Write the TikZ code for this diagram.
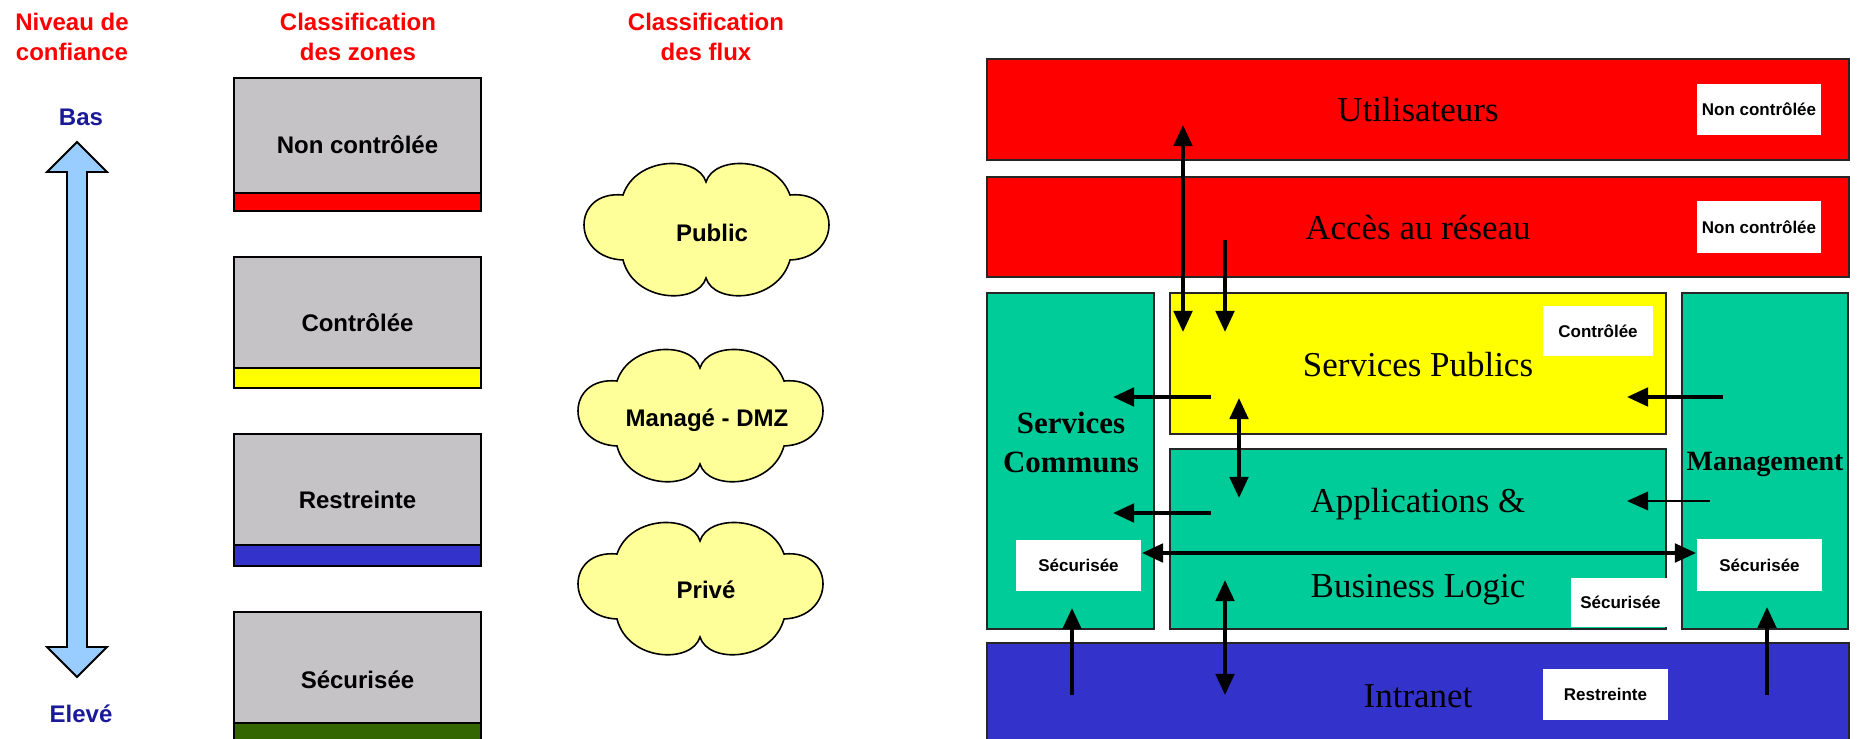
\documentclass[tikz,border=0pt]{standalone}
\usepackage{fontspec}
\setmainfont{Liberation Serif}
\newfontfamily\arialfam{Liberation Sans}
\usetikzlibrary{arrows.meta}

\definecolor{zred}{RGB}{255,0,0}
\definecolor{zyellow}{RGB}{255,255,0}
\definecolor{zteal}{RGB}{0,204,153}
\definecolor{zblue}{RGB}{51,51,204}
\definecolor{zgreen}{RGB}{51,102,0}
\definecolor{zgrey}{RGB}{197,195,198}
\definecolor{zsky}{RGB}{153,204,255}
\definecolor{zcloud}{RGB}{255,255,153}
\definecolor{znavy}{RGB}{26,26,153}

% one drawing unit = one pixel of the 1858 x 739 canvas
\newcommand\pxu{0.02cm}

\tikzset{
  sansbig/.style={font=\arialfam\bfseries\fontsize{13.66pt}{16.7pt}\selectfont},
  hdr/.style={sansbig, text=zred, align=center, inner sep=0pt, anchor=north},
  level/.style={sansbig, text=znavy, inner sep=0pt, anchor=base},
  zonebox/.style={sansbig, draw=black, line width=1.1pt, fill=zgrey,
    minimum width=247*\pxu, inner sep=0pt},
  zoneband/.style={draw=black, line width=1.1pt, minimum width=247*\pxu,
    inner sep=0pt, anchor=south west},
  cloudline/.style={draw=black, fill=zcloud, line width=0.9pt},
  cloudtext/.style={sansbig, inner sep=0pt},
  fluxcloud/.pic={
    \draw[cloudline] (0,-48) .. controls (8,-75) and (70,-74) .. (84,-35)
      .. controls (136,-40) and (136,28) .. (84,30)
      .. controls (72,73) and (8,75) .. (0,48)
      .. controls (-8,75) and (-72,73) .. (-83,30)
      .. controls (-135,28) and (-135,-40) .. (-83,-35)
      .. controls (-70,-74) and (-8,-75) .. (0,-48) -- cycle;
  },
  layer/.style={draw=black!85, line width=0.9pt, inner sep=0pt},
  tag/.style={fill=white, inner sep=0pt, minimum height=51*\pxu,
    font=\arialfam\bfseries\fontsize{9.67pt}{11pt}\selectfont},
  big/.style={font=\fontsize{19.9pt}{23pt}\selectfont, anchor=base, inner sep=0pt},
  bigb/.style={font=\bfseries\fontsize{17.6pt}{20pt}\selectfont, anchor=base, inner sep=0pt},
  flow/.style={line width=2.1pt, -{Triangle[length=12pt,width=10.5pt]}},
  thinflow/.style={line width=1.3pt, -{Triangle[length=12pt,width=10.5pt]}},
  biflow/.style={line width=2.1pt,
    {Triangle[length=12pt,width=10.5pt]}-{Triangle[length=12pt,width=10.5pt]}},
}

\begin{document}
\begin{tikzpicture}[x=0.02cm,y=-0.02cm]
\useasboundingbox (0,0) rectangle (1858,739);
\clip (0,0) rectangle (1858,739);
\fill[white] (0,0) rectangle (1858,739);

% ---------- column headers ----------
\node[hdr] (hconf) at (72,13) {Niveau de\\confiance};
\node[hdr] (hzones) at (358,13) {Classification\\des zones};
\node[hdr] (hflux) at (706,13) {Classification\\des flux};

% ---------- trust level arrow ----------
\draw[fill=zsky, draw=black, line width=1.1pt]
  (77,142) -- (107,172) -- (87,172) -- (87,647) -- (107,647) -- (77,677)
  -- (47,647) -- (67,647) -- (67,172) -- (47,172) -- cycle;
\node[level] (bas) at (81,126) {Bas};
\node[level] (eleve) at (81,722) {Elevé};

% ---------- zone classes ----------
\node[zonebox, minimum height=133*\pxu] (znc) at (357.5,144.5) {Non contrôlée};
\node[zoneband, fill=zred, minimum height=18*\pxu] (znc-b) at (znc.south west) {};
\node[zonebox, minimum height=131*\pxu] (zc) at (357.5,322.5) {Contrôlée};
\node[zoneband, fill=zyellow, minimum height=20*\pxu] (zc-b) at (zc.south west) {};
\node[zonebox, minimum height=132*\pxu] (zr) at (357.5,500) {Restreinte};
\node[zoneband, fill=zblue, minimum height=21*\pxu] (zr-b) at (zr.south west) {};
\node[zonebox, minimum height=136*\pxu] (zs) at (357.5,680) {Sécurisée};
\node[zoneband, fill=zgreen, minimum height=25*\pxu] (zs-b) at (zs.south west) {};

% ---------- flow classes ----------
\pic (cpub) at (706,230) {fluxcloud};
\node[cloudtext] (tpub) at (712,233) {Public};
\pic (cdmz) at (700,416) {fluxcloud};
\node[cloudtext] (tdmz) at (707,420) {Managé - DMZ};
\pic (cpriv) at (700,589) {fluxcloud};
\node[cloudtext] (tpriv) at (706,590) {Privé};

% ---------- architecture layers ----------
\node[layer, fill=zred, minimum width=862*\pxu, minimum height=101*\pxu] (util) at (1418,109.5) {};
\node[layer, fill=zred, minimum width=862*\pxu, minimum height=100*\pxu] (acces) at (1418,227) {};
\node[layer, fill=zteal, minimum width=167*\pxu, minimum height=336*\pxu] (commun) at (1070.5,461) {};
\node[layer, fill=zyellow, minimum width=496*\pxu, minimum height=141*\pxu] (pub) at (1418,363.5) {};
\node[layer, fill=zteal, minimum width=496*\pxu, minimum height=180*\pxu] (app) at (1418,539) {};
\node[layer, fill=zteal, minimum width=166*\pxu, minimum height=336*\pxu] (mgmt) at (1765,461) {};
\node[layer, fill=zblue, minimum width=862*\pxu, minimum height=117*\pxu] (intra) at (1418,701.5) {};

% layer titles
\node[big] (t-util) at (1418,122) {Utilisateurs};
\node[big] (t-acces) at (1418,240) {Accès au réseau};
\node[big] (t-pub) at (1418,377) {Services Publics};
\node[big] (t-app1) at (1418,512) {Applications \&};
\node[big] (t-app2) at (1418,597) {Business Logic};
\node[big] (t-intra) at (1418,707) {Intranet};
\node[bigb] (t-com1) at (1071,434) {Services};
\node[bigb] (t-com2) at (1071,472) {Communs};
\node[bigb, font=\bfseries\fontsize{15.9pt}{18pt}\selectfont] (t-mgmt) at (1765,470) {Management};

% zone tags
\node[tag, minimum width=124*\pxu] (g-util) at (1759,109.5) {Non contrôlée};
\node[tag, minimum width=124*\pxu, minimum height=52*\pxu] (g-acces) at (1759,227) {Non contrôlée};
\node[tag, minimum width=110*\pxu, minimum height=50*\pxu] (g-pub) at (1598,331) {Contrôlée};
\node[tag, minimum width=125*\pxu] (g-com) at (1078.5,565.5) {Sécurisée};
\node[tag, minimum width=125*\pxu, minimum height=52*\pxu] (g-mgmt) at (1759.5,565) {Sécurisée};
\node[tag, minimum width=99*\pxu, minimum height=49*\pxu] (g-app) at (1620.5,602.5) {Sécurisée};
\node[tag, minimum width=125*\pxu] (g-intra) at (1605.5,694.5) {Restreinte};

% ---------- flows ----------
\coordinate (u-in) at (1183,125);
\coordinate (p-in1) at (1183,332);
\coordinate (a-out) at (1225,240);
\coordinate (p-in2) at (1225,332);
\coordinate (p-w) at (1211,397);
\coordinate (c-in1) at (1113,397);
\coordinate (m-w1) at (1723,397);
\coordinate (p-e) at (1627,397);
\coordinate (p-s) at (1239,398);
\coordinate (ap-n) at (1239,498);
\coordinate (ap-w) at (1211,513);
\coordinate (c-in2) at (1113,513);
\coordinate (m-w2) at (1710,501);
\coordinate (ap-e) at (1627,501);
\coordinate (c-e) at (1142,553);
\coordinate (m-e) at (1696,553);
\coordinate (i-1) at (1072,695);
\coordinate (c-s) at (1072,608);
\coordinate (ap-s) at (1225,580);
\coordinate (i-2) at (1225,695);
\coordinate (i-3) at (1767,695);
\coordinate (m-s) at (1767,607);

\draw[biflow] (u-in) -- (p-in1);
\draw[flow] (a-out) -- (p-in2);
\draw[flow] (p-w) -- (c-in1);
\draw[flow] (m-w1) -- (p-e);
\draw[biflow] (p-s) -- (ap-n);
\draw[flow] (ap-w) -- (c-in2);
\draw[thinflow] (m-w2) -- (ap-e);
\draw[biflow] (c-e) -- (m-e);
\draw[flow] (i-1) -- (c-s);
\draw[biflow] (ap-s) -- (i-2);
\draw[flow] (i-3) -- (m-s);
\end{tikzpicture}
\end{document}
